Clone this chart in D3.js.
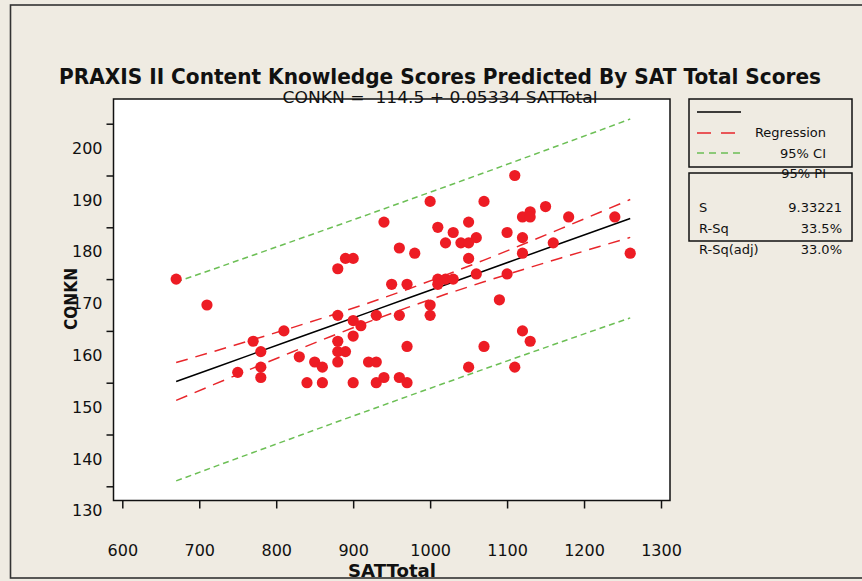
<!DOCTYPE html>
<html>
<head>
<meta charset="utf-8">
<script src="https://cdn.jsdelivr.net/npm/d3@7"></script>
<style>
  html, body { margin: 0; padding: 0; background: #EFEBE2; }
  svg { display: block; }
  text { font-family: "DejaVu Sans", Verdana, sans-serif; fill: #111; }
</style>
</head>
<body>
<svg id="chart" width="862" height="581"></svg>
<script>
// ---------- data ----------
const title = "PRAXIS II Content Knowledge Scores Predicted By SAT Total Scores";
const subtitle = "CONKN =  114.5 + 0.05334 SATTotal";
const xLabel = "SATTotal";
const yLabel = "CONKN";
const xTicks = [600, 700, 800, 900, 1000, 1100, 1200, 1300];
const yTicks = [130, 140, 150, 160, 170, 180, 190, 200];

// observed points
const satTotal = [670,710,750,770,780,780,780,810,830,840,850,860,860,880,890,900,880,880,880,890,880,900,910,900,900,920,930,930,930,940,940,960,960,960,970,970,970,1000,1000,1110,1000,1070,1150,1130,1120,1130,1180,1240,1010,1050,1030,1100,1120,1060,1020,1040,1050,980,1160,1050,1120,1260,1010,1020,1030,1010,1060,1100,950,1090,1120,1130,1070,1050,1110];
const conkn    = [170,165,152,158,156,153,151,160,155,150,154,153,150,172,174,174,163,158,156,156,154,162,161,159,150,154,154,163,150,151,181,176,163,151,169,157,150,165,163,190,185,185,184,183,182,182,182,182,180,181,179,179,178,178,177,177,177,175,177,174,175,175,170,170,170,169,171,171,169,166,160,158,157,153,153];

// fitted line and bands
const gridSat = [670,720,770,820,870,920,970,1020,1070,1120,1170,1220,1260];
const fitVals = [150.24,152.90,155.57,158.24,160.91,163.57,166.24,168.91,171.57,174.24,176.91,179.57,181.71];
const ciLow   = [146.59,149.72,152.82,155.89,158.88,161.75,164.49,167.06,169.48,171.81,174.08,176.29,178.06];
const ciHigh  = [153.89,156.08,158.32,160.59,162.94,165.39,167.99,170.76,173.66,176.67,179.74,182.85,185.36];
const piLow   = [131.04,133.80,136.52,139.24,141.96,144.64,147.32,149.98,152.62,155.24,157.86,160.45,162.51];
const piHigh  = [169.44,172.00,174.62,177.24,179.86,182.50,185.16,187.84,190.52,193.24,195.96,198.69,200.91];

const legendLabels = ["", "Regression", "95% CI", "95% PI"];
const statNames = ["S", "R-Sq", "R-Sq(adj)"];
const statValues = ["9.33221", "33.5%", "33.0%"];

// ---------- drawing ----------
const svg = d3.select("#chart");
const colRed = "#ED1C24", colLine = "#E8262B", colGreen = "#6CBF55";

// outer frame
svg.append("rect").attr("x", 10.5).attr("y", 5).attr("width", 870).attr("height", 573)
  .attr("fill", "#EFEBE2").attr("stroke", "#333").attr("stroke-width", 1.6);

const box = {l: 113.5, r: 670, t: 99, b: 500.5};
const x = d3.scaleLinear().domain([600, 1300]).range([122.3, 661]);
const y = d3.scaleLinear().domain([130, 200]).range([486.3, 123.7]);

// plot area
svg.append("rect").attr("x", box.l).attr("y", box.t)
  .attr("width", box.r - box.l).attr("height", box.b - box.t)
  .attr("fill", "#fff").attr("stroke", "none");

// bands and fit
const line = (vals) => d3.line().x((d, i) => x(gridSat[i])).y(d => y(d))(vals);
const g = svg.append("g");
[[piLow, colGreen, "6,4"], [piHigh, colGreen, "6,4"]].forEach(([v, c, da]) =>
  g.append("path").attr("d", line(v)).attr("fill", "none").attr("stroke", c)
   .attr("stroke-width", 1.5).attr("stroke-dasharray", da));
[[ciLow, colLine, "12,8"], [ciHigh, colLine, "12,8"]].forEach(([v, c, da]) =>
  g.append("path").attr("d", line(v)).attr("fill", "none").attr("stroke", c)
   .attr("stroke-width", 1.5).attr("stroke-dasharray", da));
g.append("path").attr("d", line(fitVals)).attr("fill", "none").attr("stroke", "#000").attr("stroke-width", 1.5);

// points
svg.append("g").selectAll("circle").data(satTotal).join("circle")
  .attr("cx", (d) => x(d)).attr("cy", (d, i) => y(conkn[i])).attr("r", 5.6)
  .attr("fill", colRed);

// plot border
svg.append("rect").attr("x", box.l).attr("y", box.t)
  .attr("width", box.r - box.l).attr("height", box.b - box.t)
  .attr("fill", "none").attr("stroke", "#111").attr("stroke-width", 1.5);

// x axis
const xa = svg.append("g").attr("transform", `translate(0,${box.b})`)
  .call(d3.axisBottom(x).tickValues(xTicks).tickFormat(d3.format("d"))
    .tickSize(8).tickSizeOuter(0).tickPadding(36));
xa.select(".domain").remove();
xa.selectAll(".tick line").attr("stroke", "#111").attr("stroke-width", 1.5);
xa.selectAll(".tick text").attr("font-size", 16).attr("fill", "#111")
  .attr("font-family", "DejaVu Sans");

// y axis
const ya = svg.append("g").attr("transform", `translate(${box.l},0)`)
  .call(d3.axisLeft(y).tickValues(yTicks).tickFormat(d3.format("d"))
    .tickSize(7).tickSizeOuter(0).tickPadding(4));
ya.select(".domain").remove();
ya.selectAll(".tick line").attr("stroke", "#111").attr("stroke-width", 1.5);
ya.selectAll(".tick text").attr("font-size", 16).attr("fill", "#111")
  .attr("font-family", "DejaVu Sans").attr("dy", "1.85em").attr("x", -11);

// titles
svg.append("text").attr("x", 440).attr("y", 84).attr("text-anchor", "middle")
  .attr("font-weight", "bold").attr("font-size", 21)
  .attr("textLength", 762).attr("lengthAdjust", "spacingAndGlyphs").text(title);
svg.append("text").attr("x", 440).attr("y", 103).attr("text-anchor", "middle")
  .attr("font-size", 16).style("white-space", "pre")
  .attr("textLength", 315).attr("lengthAdjust", "spacingAndGlyphs").text(subtitle);
svg.append("text").attr("x", 392).attr("y", 577).attr("text-anchor", "middle")
  .attr("font-weight", "bold").attr("font-size", 17)
  .attr("textLength", 88).attr("lengthAdjust", "spacingAndGlyphs").text(xLabel);
svg.append("text").attr("transform", "translate(77,299) rotate(-90)").attr("text-anchor", "middle")
  .attr("font-weight", "bold").attr("font-size", 18)
  .attr("textLength", 62).attr("lengthAdjust", "spacingAndGlyphs").text(yLabel);

// legend box
svg.append("rect").attr("x", 689).attr("y", 99).attr("width", 163).attr("height", 68)
  .attr("fill", "none").attr("stroke", "#111").attr("stroke-width", 1.5);
const legItems = [
  {y: 112, stroke: "#000", dash: null},
  {y: 133, stroke: colLine, dash: "14,10"},
  {y: 153, stroke: colGreen, dash: "7,5"}
];
legItems.forEach(it => {
  svg.append("line").attr("x1", 697).attr("x2", 741).attr("y1", it.y).attr("y2", it.y)
    .attr("stroke", it.stroke).attr("stroke-width", 1.5).attr("stroke-dasharray", it.dash);
});
const legTextY = [0, 137, 158, 178];
legendLabels.forEach((t, i) => {
  if (!t) return;
  svg.append("text").attr("x", 826).attr("y", legTextY[i]).attr("text-anchor", "end")
    .attr("font-size", 13).text(t);
});

// stats box
svg.append("rect").attr("x", 689).attr("y", 173).attr("width", 163).attr("height", 68)
  .attr("fill", "none").attr("stroke", "#111").attr("stroke-width", 1.5);
const statY = [212, 233, 254];
statNames.forEach((t, i) => {
  svg.append("text").attr("x", 699).attr("y", statY[i]).attr("font-size", 13).text(t);
  svg.append("text").attr("x", 842).attr("y", statY[i]).attr("text-anchor", "end")
    .attr("font-size", 13).text(statValues[i]);
});
</script>
</body>
</html>
